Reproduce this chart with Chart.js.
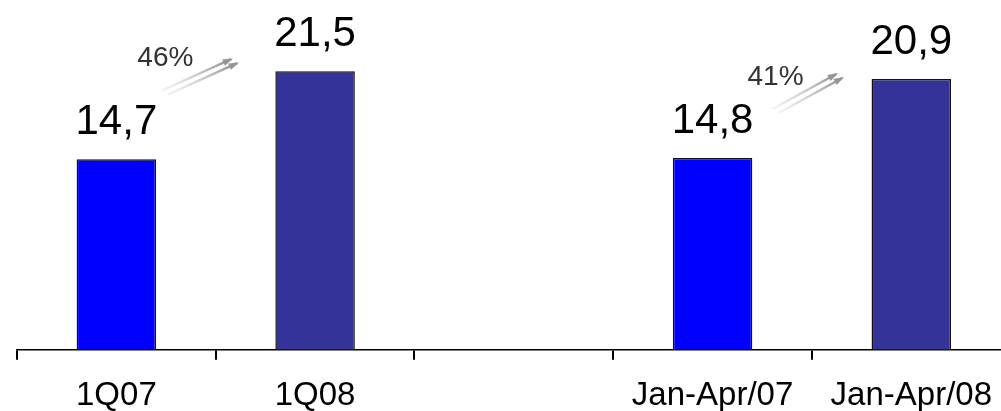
<!DOCTYPE html>
<html lang="en">
<head>
    <meta charset="UTF-8">
    <title>1Q and Jan-Apr comparison</title>
    <script src="https://cdn.jsdelivr.net/npm/chart.js@4/dist/chart.umd.min.js"></script>
    <style>
        body {
            margin: 0;
            overflow: hidden;
            background: #fff;
            font-family: "Liberation Sans", Arial, sans-serif;
        }
        #wrap {
            width: 1013px;
            height: 433px;
            position: relative;
        }
    </style>
</head>
<body>
    <div id="wrap"><canvas id="chart"></canvas></div>

    <script>
        // data
        const categories = ['1Q07', '1Q08', '', 'Jan-Apr/07', 'Jan-Apr/08'];
        const values = [14.7, 21.5, null, 14.8, 20.9];
        const valueLabels = ['14,7', '21,5', '', '14,8', '20,9'];
        const barColors = ['#0000ff', '#333399', '#ffffff', '#0000ff', '#333399'];
        const growthLabels = ['46%', '41%'];
        const growthPairs = [[0, 1], [3, 4]];

        // arrow offsets from the bar tops (pixels)
        const arrowOffsets = [
            { sx: 46, sy: -69, ex: -84, ey: -12 },
            { sx: 60, sy: -49, ex: -75, ey: -5 }
        ];

        function drawArrow(ctx, x1, y1, x2, y2) {
            const grad = ctx.createLinearGradient(x1, y1, x2, y2);
            grad.addColorStop(0, 'rgba(225,225,225,0.4)');
            grad.addColorStop(1, 'rgba(140,140,140,1)');
            ctx.strokeStyle = grad;
            ctx.fillStyle = 'rgb(150,150,150)';
            ctx.lineWidth = 2.5;
            ctx.beginPath();
            ctx.moveTo(x1, y1);
            ctx.lineTo(x2, y2);
            ctx.stroke();
            const ang = Math.atan2(y2 - y1, x2 - x1);
            const len = 9;
            ctx.beginPath();
            ctx.moveTo(x2 + 2 * Math.cos(ang), y2 + 2 * Math.sin(ang));
            ctx.lineTo(x2 - len * Math.cos(ang - 0.4), y2 - len * Math.sin(ang - 0.4));
            ctx.lineTo(x2 - len * Math.cos(ang + 0.4), y2 - len * Math.sin(ang + 0.4));
            ctx.closePath();
            ctx.fill();
        }

        const labelPlugin = {
            id: 'labels',
            afterDatasetsDraw(chart) {
                const ctx = chart.ctx;
                const bars = chart.getDatasetMeta(0).data;
                ctx.save();
                ctx.textAlign = 'center';
                ctx.textBaseline = 'alphabetic';
                ctx.fillStyle = '#000';
                ctx.font = '42px "Liberation Sans", Arial, sans-serif';
                bars.forEach((bar, i) => {
                    if (values[i] == null) return;
                    ctx.fillText(valueLabels[i], bar.x, bar.y - 25);
                });

                growthPairs.forEach(([a, b], k) => {
                    const o = arrowOffsets[k];
                    const sx = bars[a].x + o.sx, sy = bars[a].y + o.sy;
                    const ex = bars[b].x + o.ex, ey = bars[b].y + o.ey;
                    drawArrow(ctx, sx, sy, ex, ey);
                    drawArrow(ctx, sx + 6, sy + 4, ex + 6, ey + 4);
                    ctx.fillStyle = '#333';
                    ctx.font = '28px "Liberation Sans", Arial, sans-serif';
                    ctx.fillText(growthLabels[k], sx + 3, sy - 24);
                });
                ctx.restore();
            }
        };

        new Chart(document.getElementById('chart'), {
            type: 'bar',
            data: {
                labels: categories,
                datasets: [{
                    data: values,
                    backgroundColor: barColors,
                    borderColor: '#111',
                    borderWidth: 1.5,
                    barPercentage: 0.4,
                    categoryPercentage: 1
                }]
            },
            options: {
                responsive: true,
                maintainAspectRatio: false,
                animation: false,
                devicePixelRatio: 1,
                layout: { padding: { left: 17, right: 0, top: 0, bottom: 0 } },
                plugins: {
                    legend: { display: false },
                    tooltip: { enabled: false }
                },
                scales: {
                    x: {
                        grid: {
                            offset: true,
                            drawOnChartArea: false,
                            drawTicks: true,
                            tickLength: 10,
                            color: '#000',
                            lineWidth: 2
                        },
                        border: { display: true, color: '#000', width: 1.5 },
                        ticks: {
                            color: '#000',
                            padding: 21,
                            maxRotation: 0,
                            autoSkip: false,
                            font: { family: '"Liberation Sans", Arial, sans-serif', size: 33, lineHeight: 0.95 }
                        }
                    },
                    y: {
                        display: false,
                        min: 0,
                        max: 27
                    }
                }
            },
            plugins: [labelPlugin]
        });
    </script>
</body>
</html>
